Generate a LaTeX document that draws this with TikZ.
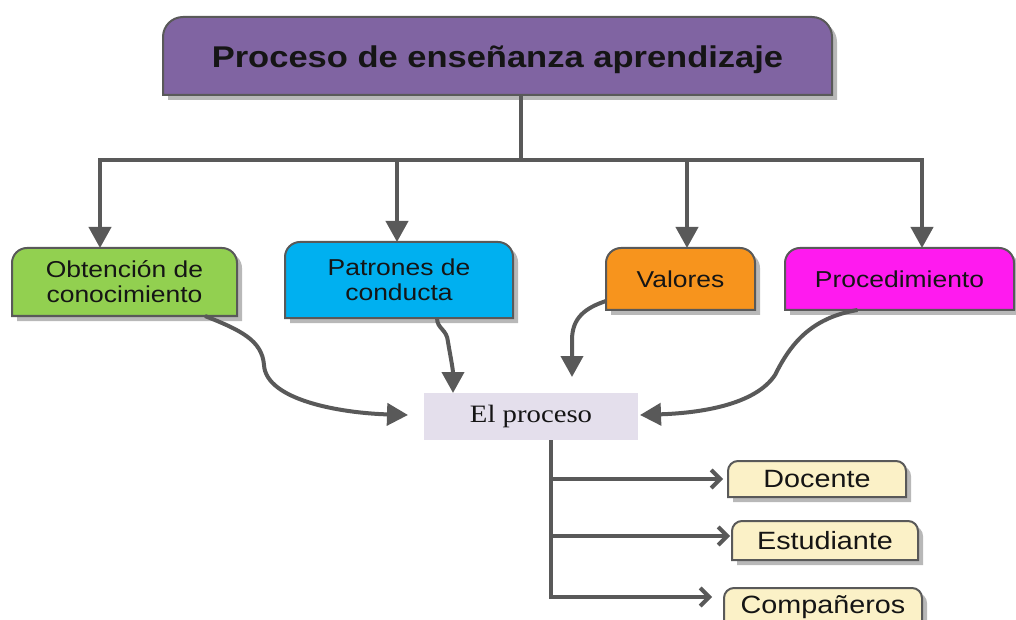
\documentclass[tikz,border=0pt]{standalone}
\usepackage{fontspec}
\setmainfont{Liberation Sans}
\newfontfamily\sfw[FakeStretch=1.15]{Liberation Sans}
\newfontfamily\serw[FakeStretch=1.15]{Liberation Serif}
\usetikzlibrary{arrows.meta,backgrounds}
\definecolor{cpurple}{HTML}{8064A2}
\definecolor{cgreen}{HTML}{92D050}
\definecolor{cblue}{HTML}{00B0F0}
\definecolor{corange}{HTML}{F7941D}
\definecolor{cmagenta}{HTML}{FF1AEF}
\definecolor{clav}{HTML}{E4DFEC}
\definecolor{cyellow}{HTML}{FBF1C7}
\definecolor{bordc}{HTML}{595959}
\definecolor{linec}{HTML}{595959}
\definecolor{shadowc}{HTML}{B8B8B8}
\definecolor{txtc}{HTML}{151515}
\newcommand\tbox[3]{%
\begin{pgfonlayer}{background}
\fill[shadowc] ([shift={(5,-5)}]#1.south west) -- ([shift={(5,-5-#3)}]#1.north west) arc[start angle=180,end angle=90,radius=#3pt] -- ([shift={(5-#3,-5)}]#1.north east) arc[start angle=90,end angle=0,radius=#3pt] -- ([shift={(5,-5)}]#1.south east) -- cycle;
\filldraw[fill=#2,draw=bordc,line width=2pt] (#1.south west) -- ([yshift=-#3pt]#1.north west) arc[start angle=180,end angle=90,radius=#3pt] -- ([xshift=-#3pt]#1.north east) arc[start angle=90,end angle=0,radius=#3pt] -- (#1.south east) -- cycle;
\end{pgfonlayer}}
\tikzset{
  box/.style={inner sep=0pt,outer sep=0pt,align=center,text=txtc,font=\sfw\fontsize{23}{25}\selectfont},
  small/.style={box,font=\sfw\fontsize{25}{28}\selectfont},
  line/.style={draw=linec,line width=4pt},
  arrA/.style={line,-{Triangle[length=21pt,width=22pt]}},
  arrB/.style={line,-{Straight Barb[length=9pt,width=18pt]}},
}
\begin{document}
\begin{tikzpicture}[x=1pt,y=1pt]
\useasboundingbox (0,0) rectangle (1016,619);
% nodes
\node[box,minimum width=669pt,minimum height=78pt,text height=30pt,text depth=7pt,font=\sfw\bfseries\fontsize{30}{34}\selectfont] (title) at (497.5,563) {Proceso de enseñanza aprendizaje};
\node[box,minimum width=225pt,minimum height=68pt] (obt) at (124.5,337) {Obtención de\\conocimiento};
\node[box,minimum width=228pt,minimum height=76pt] (pat) at (399,339) {Patrones de\\conducta};
\node[box,minimum width=149pt,minimum height=62pt] (val) at (680.5,340) {Valores};
\node[box,minimum width=229pt,minimum height=62pt] (proc) at (899.5,340) {Procedimiento};
\node[box,minimum width=214pt,minimum height=47pt,fill=clav,font=\serw\fontsize{25}{28}\selectfont] (elp) at (531,202.5) {El proceso};
\node[small,minimum width=178pt,minimum height=36pt] (doc) at (817,140) {Docente};
\node[small,minimum width=186pt,minimum height=39pt] (est) at (825,78.5) {Estudiante};
\node[small,minimum width=198pt,minimum height=42pt,text height=16pt,text depth=8pt] (comp) at (823,10) {Compañeros};
\tbox{title}{cpurple}{20}
\tbox{obt}{cgreen}{15}
\tbox{pat}{cblue}{15}
\tbox{val}{corange}{15}
\tbox{proc}{cmagenta}{15}
\tbox{doc}{cyellow}{10}
\tbox{est}{cyellow}{10}
\tbox{comp}{cyellow}{10}
% top tree
\coordinate (hub) at (521,459);
\draw[line] (title.south -| hub) -- (hub);
\draw[arrA] (hub) -| ([xshift=-24.5pt]obt.north);
\draw[arrA] (hub) -| ([xshift=-2pt]pat.north);
\draw[arrA] (hub) -| ([xshift=6.5pt]val.north);
\draw[arrA] (hub) -| ([xshift=22.5pt]proc.north);
% curves into El proceso
\draw[arrA] ([xshift=80.5pt]obt.south) .. controls (240,289) and (262,279) .. (264,254) .. controls (266,219) and (340,206) .. ([xshift=-16pt,yshift=1.5pt]elp.west);
\draw[arrA] ([xshift=38pt]pat.south) .. controls (437,290) and (447,290) .. (448,277) .. controls (450,265) and (453,250) .. ([xshift=-78pt]elp.north);
\draw[arrA] ([yshift=9pt]val.south west) .. controls (585,311) and (572,301) .. (572,279) -- ([xshift=41pt,yshift=16pt]elp.north);
\draw[arrA] ([xshift=-42pt]proc.south) .. controls (810,301) and (790,274) .. (775,244) .. controls (755,214) and (700,206) .. ([xshift=2pt,yshift=1.5pt]elp.east);
% sub tree
\coordinate (sp) at ([xshift=20pt]elp.south);
\draw[arrB] (sp) |- ([xshift=-12pt,yshift=12pt]comp.west);
\draw[arrB] (doc.west -| sp) -- ([xshift=-5pt]doc.west);
\draw[arrB] ([yshift=4.5pt]est.west -| sp) -- ([xshift=-2pt,yshift=4.5pt]est.west);
\end{tikzpicture}
\end{document}
